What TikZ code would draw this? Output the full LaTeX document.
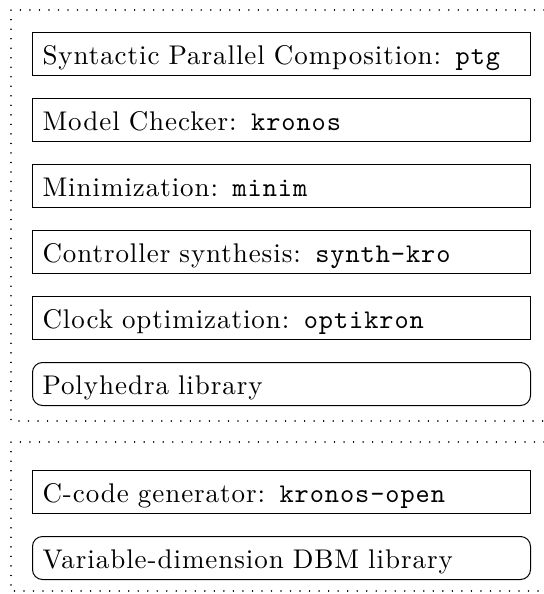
\documentclass[tikz,border=0pt]{standalone}
\usepackage{fontspec}
\setmainfont{lmroman10-regular.otf}[LetterSpace=3.5]
\setmonofont{lmmono10-regular.otf}[LetterSpace=3.5]
\usetikzlibrary{positioning}
\begin{document}
\begin{tikzpicture}[x=0.5pt,y=-0.5pt,
  tool/.style={draw,line width=0.5pt,minimum width=249pt,minimum height=21.5pt,
    text width=239pt,inner xsep=5pt,align=left,text height=10.5pt,text depth=0pt,
    font=\fontsize{13.5}{16}\selectfont},
  lib/.style={tool,rounded corners=5pt},
  frame/.style={line width=0.8pt,dash pattern=on 0.01pt off 4.75pt,line cap=round},
  node distance=11pt]
\useasboundingbox (0,0) rectangle (544,594);

% upper frame
\draw[frame] (544,10) -| (11,421) -- (544,421);
\node[tool,anchor=north west] (ptg) at (32,32) {Syntactic Parallel Composition: \texttt{ptg}};
\node[tool,below=of ptg] (kronos) {Model Checker: \texttt{kronos}};
\node[tool,below=of kronos] (minim) {Minimization: \texttt{minim}};
\node[tool,below=of minim] (synth) {Controller synthesis: \texttt{synth-kro}};
\node[tool,below=of synth] (optik) {Clock optimization: \texttt{optikron}};
\node[lib,below=of optik] (poly) {Polyhedra library};

% lower frame
\draw[frame] (544,442) -| (11,591) -- (544,591);
\node[tool,below=32pt of poly] (open) {C-code generator: \texttt{kronos-open}};
\node[lib,below=of open] (dbm) {Variable-dimension DBM library};
\end{tikzpicture}
\end{document}
